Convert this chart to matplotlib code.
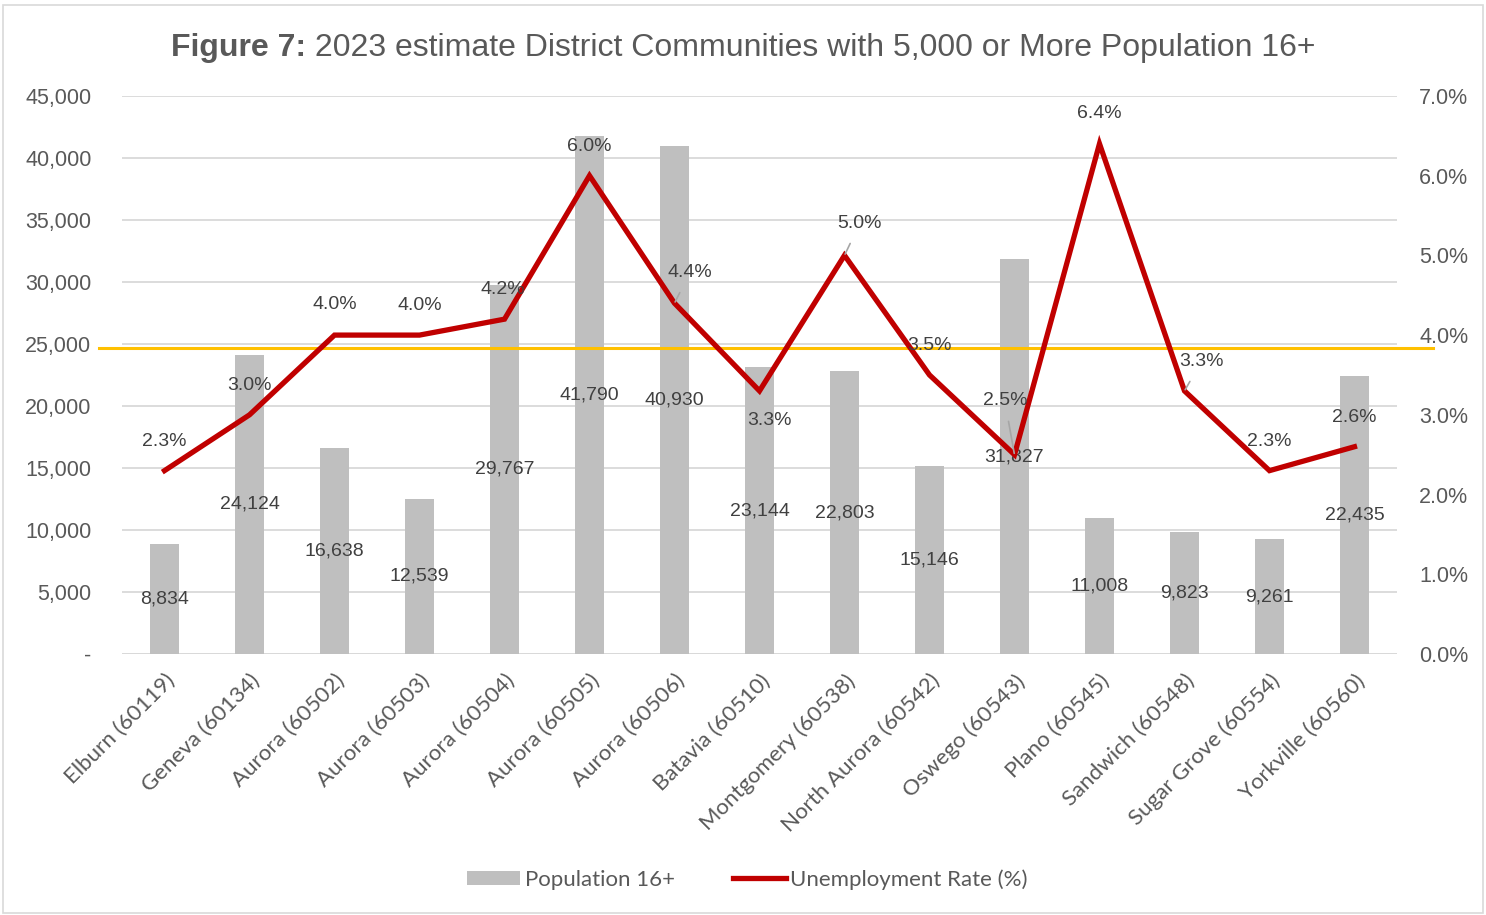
import matplotlib.pyplot as plt
from matplotlib.patches import Rectangle
from matplotlib.ticker import FuncFormatter, MultipleLocator
import numpy as np

communities = ['Elburn (60119)', 'Geneva (60134)', 'Aurora (60502)', 'Aurora (60503)',
               'Aurora (60504)', 'Aurora (60505)', 'Aurora (60506)', 'Batavia (60510)',
               'Montgomery (60538)', 'North Aurora (60542)', 'Oswego (60543)',
               'Plano (60545)', 'Sandwich (60548)', 'Sugar Grove (60554)', 'Yorkville (60560)']
population = [8834, 24124, 16638, 12539, 29767, 41790, 40930, 23144,
              22803, 15146, 31827, 11008, 9823, 9261, 22435]
unemployment = [2.3, 3.0, 4.0, 4.0, 4.2, 6.0, 4.4, 3.3, 5.0, 3.5, 2.5, 6.4, 3.3, 2.3, 2.6]
reference_rate = 3.84

text_gray = '#595959'
label_gray = '#404040'
bar_gray = '#BFBFBF'
red = '#C00000'

fig = plt.figure(figsize=(14.86, 9.15), dpi=100)
ax = fig.add_axes([0.0821, 0.2852, 0.858, 0.61])
ax2 = ax.twinx()

x = np.arange(len(communities))
bars = ax.bar(x, population, width=0.33, color=bar_gray, label='Population 16+', zorder=2)
ax.set_xlim(-0.5, len(communities) - 0.5)
ax.set_ylim(0, 45000)
ax.yaxis.set_major_locator(MultipleLocator(5000))
ax.yaxis.set_major_formatter(FuncFormatter(lambda v, p: '-' if v == 0 else f'{v:,.0f}'))
ax.grid(axis='y', color='#D9D9D9', linewidth=1.3, zorder=0)
ax.set_axisbelow(True)
for s in ax.spines.values():
    s.set_visible(False)
ax.tick_params(length=0)
ax.tick_params(axis='y', labelsize=15.5, labelcolor=text_gray, pad=22)
ax.set_xticks(x)
ax.set_xticklabels(communities, rotation=45, ha='right', rotation_mode='anchor',
                   fontsize=16, color=text_gray, family='Lato')
ax.tick_params(axis='x', pad=12)
for lbl in ax.get_yticklabels():
    lbl.set_family('Liberation Sans')
ax.axhline(0, color='#D9D9D9', linewidth=1.3, zorder=1)

# bar values in the middle of each bar
for xi, v in zip(x, population):
    ax.text(xi, v / 2, f'{v:,}', ha='center', va='center', fontsize=14,
            color=label_gray, family='Liberation Sans', zorder=5)

line, = ax2.plot(x, unemployment, color=red, linewidth=3.8, label='Unemployment Rate (%)',
                 solid_joinstyle='miter', zorder=4)
ax2.set_ylim(0, 7)
ax2.yaxis.set_major_locator(MultipleLocator(1))
ax2.yaxis.set_major_formatter(FuncFormatter(lambda v, p: f'{v:.1f}%'))
for s in ax2.spines.values():
    s.set_visible(False)
ax2.tick_params(length=0, labelsize=15.5, labelcolor=text_gray, pad=16)
for lbl in ax2.get_yticklabels():
    lbl.set_family('Liberation Sans')

ax2.plot([-0.018, 1.028], [reference_rate, reference_rate], color='#FFC000', linewidth=2.2,
         transform=ax2.get_yaxis_transform(), clip_on=False, zorder=3)

# label offsets in points (dx, dy) and whether a leader line is drawn
offsets = [(0, 21), (0, 21), (0, 22), (0, 21), (-1, 21), (0, 21), (11, 22), (7, -21),
           (11, 23), (0, 21), (-7, 39), (0, 22), (12, 21), (0, 21), (0, 21)]
leaders = [False, False, False, False, False, False, True, False,
           True, False, True, False, True, False, False]
for xi, v, (dx, dy), lead in zip(x, unemployment, offsets, leaders):
    ax2.annotate(f'{v:.1f}%', (xi, v), xytext=(dx, dy), textcoords='offset points',
                 ha='center', va='center', fontsize=14, color=label_gray,
                 family='Liberation Sans', zorder=6,
                 arrowprops=dict(arrowstyle='-', color='#A6A6A6', lw=1.2,
                                 shrinkA=7, shrinkB=1) if lead else None)

handles = [bars, line]
fig.legend(handles, [h.get_label() for h in handles], loc='center', bbox_to_anchor=(0.503, 0.039),
           ncol=2, frameon=False, prop={'family': 'Lato', 'size': 16}, labelcolor=text_gray,
           handlelength=2.4, handleheight=0.6, columnspacing=2.6, handletextpad=0.2)

# title with bold prefix
fig.canvas.draw()
r = fig.canvas.get_renderer()
t1 = fig.text(0, 0.948, 'Figure 7:', fontsize=23, fontweight='bold', color=text_gray,
              family='Liberation Sans', va='center')
t2 = fig.text(0, 0.948, ' 2023 estimate District Communities with 5,000 or More Population 16+',
              fontsize=23, color=text_gray, family='Liberation Sans', va='center')
w1 = t1.get_window_extent(r).width
w2 = t2.get_window_extent(r).width
x0 = (fig.bbox.width * 0.5 - (w1 + w2) / 2)
t1.set_x(x0 / fig.bbox.width)
t2.set_x((x0 + w1) / fig.bbox.width)

fig.patches.append(Rectangle((0.002, 0.002), 0.996, 0.993, transform=fig.transFigure,
                             fill=False, edgecolor='#D9D9D9', linewidth=1.2))

fig.savefig('out.png', dpi=100)
